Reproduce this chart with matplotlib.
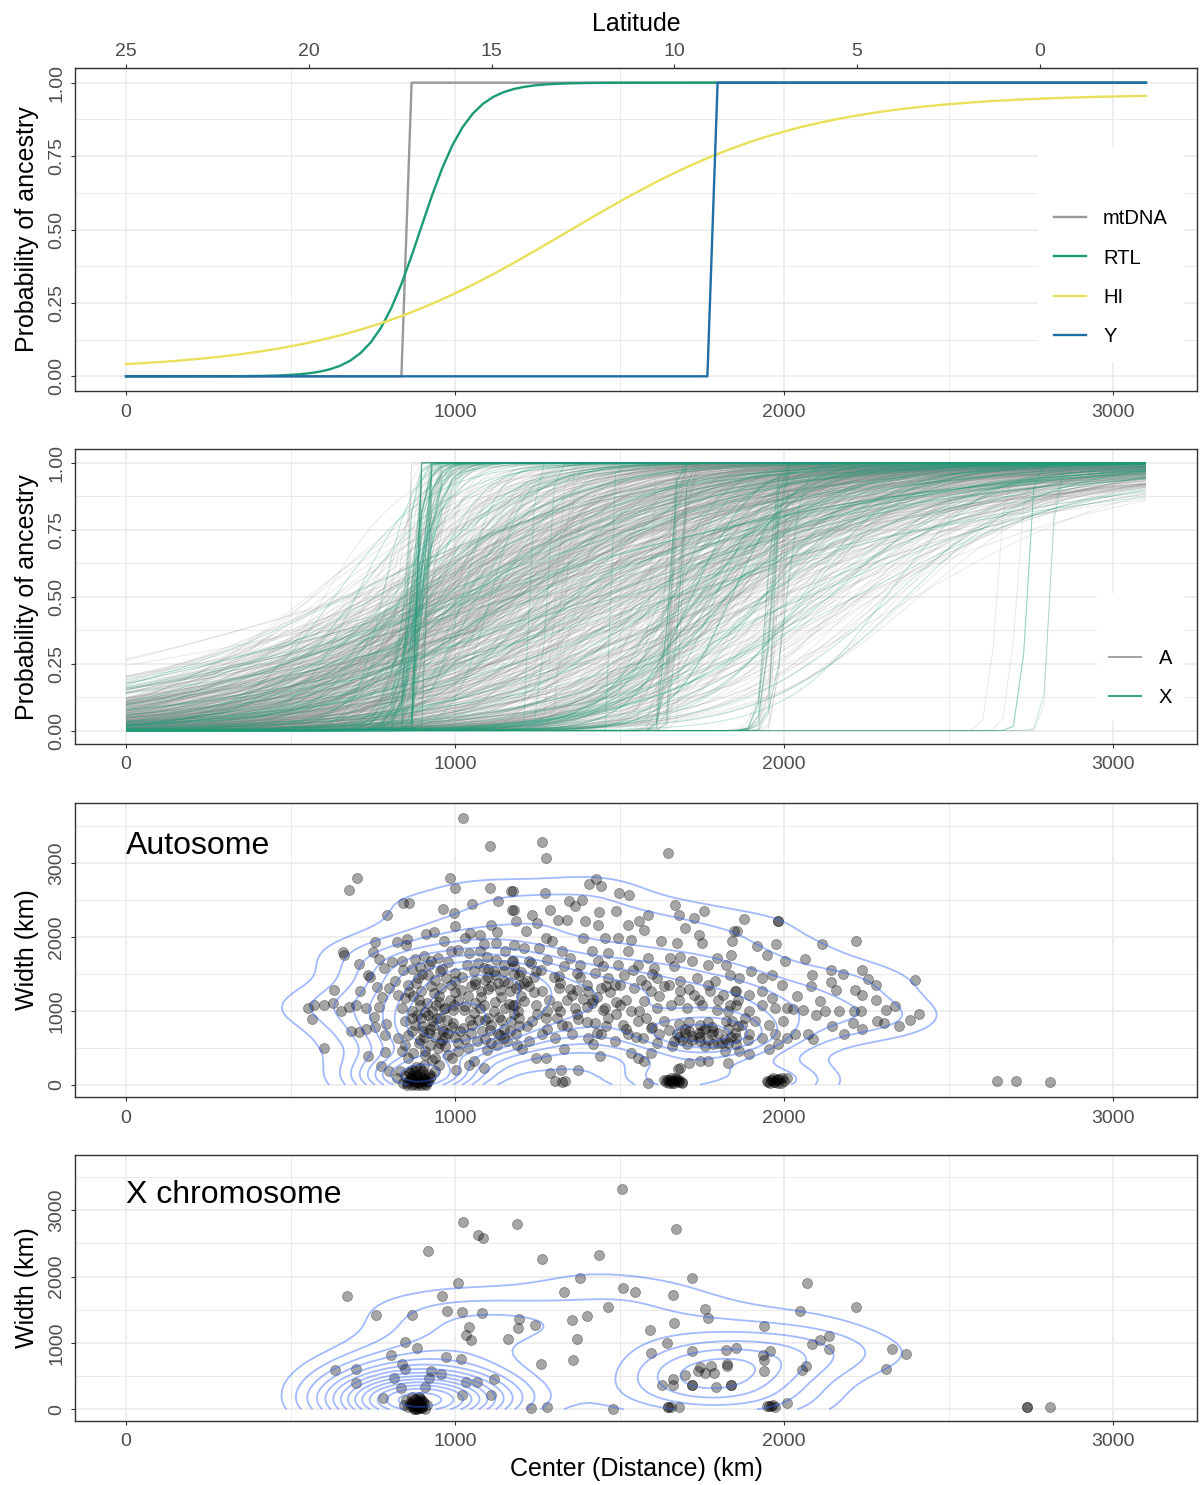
import numpy as np
import matplotlib
matplotlib.use("Agg")
import matplotlib.pyplot as plt
from matplotlib.collections import LineCollection
from matplotlib.lines import Line2D
from matplotlib.ticker import MaxNLocator, FixedLocator

plt.rcParams['font.family'] = ['Liberation Sans', 'DejaVu Sans']

# ---- panel 1: fitted clines (center / width in km, tails pmin / pmax) ----
cline_names = ["mtDNA", "RTL", "HI", "Y"]
cline_centers = [852, 895, 1340, 1782]
cline_widths = [5, 297, 1430, 5]
cline_pmin = [0.0, 0.0, 0.02, 0.0]
cline_pmax = [1.0, 1.0, 0.962, 1.0]

auto_center = [
    1025, 1105, 703, 679, 985, 1001, 1105, 1170, 841, 861,
    792, 963, 996, 1053, 1130, 1174, 1001, 1110, 1129, 913,
    935, 853, 824, 758, 850, 967, 1029, 1046, 1076, 1088,
    1123, 661, 663, 750, 768, 709, 737, 743, 785, 809,
    838, 878, 907, 843, 870, 893, 928, 948, 988, 1008,
    1043, 1075, 1098, 1125, 1153, 632, 553, 570, 566, 603,
    628, 653, 678, 710, 698, 728, 763, 778, 798, 768,
    753, 685, 708, 728, 756, 791, 788, 602, 736, 776,
    788, 798, 818, 858, 888, 918, 953, 973, 1000, 1035,
    1058, 1088, 1118, 1148, 1173, 828, 848, 873, 898, 928,
    958, 988, 1018, 1048, 1078, 1108, 1138, 1168, 838, 868,
    893, 918, 943, 968, 998, 1028, 1058, 1088, 1118, 1153,
    1183, 848, 878, 898, 933, 963, 993, 1023, 1053, 1083,
    1108, 1138, 1168, 828, 858, 893, 923, 948, 978, 1008,
    1038, 1068, 1098, 1128, 1158, 1188, 838, 858, 873, 908,
    938, 1058, 1088, 1003, 1043, 848, 903, 883, 953,
    833, 848, 858, 868, 878, 888, 898, 908, 918, 928,
    843, 883, 863, 893, 913, 853, 938, 823, 903, 873,
    900, 920, 940, 960, 980, 1000, 870, 890, 950, 1010,
    1060, 1100, 1140, 1180, 1200, 1150, 1100, 1000, 930, 960,
    1263, 1277, 1648, 1177, 1272, 1407, 1428, 1445, 1498, 1530,
    1345, 1385, 1180, 1235, 1290, 1365, 1437, 1490, 1585, 1668,
    1680, 1725, 1757, 1185, 1250, 1313, 1340, 1395, 1433, 1525,
    1560, 1575, 1700, 1215, 1275, 1295, 1390, 1457, 1495, 1535,
    1625, 1675, 1740, 1750, 1847, 1180, 1210, 1255, 1325, 1415,
    1465, 1525, 1585, 1652, 1685, 1720, 1770, 1797, 1825, 1175,
    1225, 1280, 1350, 1380, 1435, 1495, 1555, 1605, 1665, 1195,
    1245, 1315, 1370, 1425, 1465, 1515, 1565, 1615, 1685, 1735,
    1790, 1835, 1185, 1225, 1265, 1315, 1355, 1405, 1445, 1485,
    1545, 1595, 1635, 1685, 1725, 1775, 1815, 1850, 1175, 1210,
    1245, 1285, 1320, 1365, 1415, 1455, 1500, 1535, 1575, 1615,
    1655, 1705, 1750, 1795, 1835, 1195, 1235, 1275, 1325, 1375,
    1425, 1465, 1510, 1555, 1595, 1635, 1675, 1710, 1745, 1785,
    1825, 1185, 1225, 1265, 1305, 1355, 1405, 1445, 1485, 1525,
    1570, 1615, 1665, 1705, 1745, 1785, 1820, 1855, 1205, 1245,
    1275, 1330, 1420, 1440, 1535, 1555, 1575, 1595, 1710, 1745,
    1770, 1830, 1685, 1290, 1323, 1375, 1305, 1335, 1325, 1587,
    1645, 1660, 1635, 1665, 1680, 1655, 1675, 1690, 1650, 1670,
    1677,
    1878, 1983, 1983, 1858, 1843, 1976, 2116, 2219, 1918, 1948,
    2063, 1840, 1898, 1963, 2003, 2143, 2180, 2238, 2255, 2280,
    2398, 2086, 2081, 2143, 2158, 2216, 2238, 2280, 2311, 2338,
    2410, 2384, 2350, 2038, 2008, 2028, 2108, 2123, 2058, 2166,
    2213, 2233, 2209, 2238, 2283, 2303, 2146, 2183, 2073, 2088,
    2033, 2098, 1993, 1933, 1863, 1853, 1893, 1933, 1963, 1853,
    1893, 1933, 1973, 1843, 1873, 1913, 1953, 1998, 1853, 1893,
    1933, 1973, 2008, 1863, 1893, 1953, 1983, 1948, 1963, 1978,
    1993, 2008, 1958, 1983, 1973, 2646, 2706, 2808,
    1700, 1740, 1780, 1820, 1760, 1800, 1720, 1850, 1680, 1760,
    # dark blobs of narrow clines
    855, 865, 875, 885, 895, 905, 915, 925, 860, 870,
    880, 890, 900, 910, 920, 870, 880, 890, 900, 910,
    885, 895, 875, 905, 865,
    1640, 1650, 1660, 1670, 1680, 1690, 1655, 1675,
    1950, 1960, 1970, 1980, 1990, 2000, 1965, 1985,
    # densest parts of the cloud, where single points merge
    905, 925, 945, 965, 985, 915, 935, 955, 975, 995,
    910, 930, 950, 970, 990,
    1060, 1090, 1120, 1150, 1180, 1210, 1240, 1070, 1130, 1200,
    1230, 1100,
    1310, 1340, 1370, 1400, 1430, 1460, 1490, 1320, 1390, 1450,
    1660, 1690, 1720, 1750, 1780, 1810, 1840, 1700, 1770, 1830,
    1015, 1045, 1075, 1105, 1135, 1165, 1195, 1030, 1090, 1150,
    860, 880, 900, 920, 940, 960, 980, 1000, 1020, 1040,
    1060, 1080, 1100, 1120, 1140, 1160, 1180, 1195, 870, 890,
    910, 930, 950, 970, 990, 1010, 1030, 1050, 1070, 1090,
    1110, 1130, 1150, 1170, 1190,
    1220, 1240, 1260, 1280, 1300, 1330, 1350, 1380, 1400, 1420,
    1450, 1470, 1500, 1520, 1540, 1560, 1580, 1600, 1220, 1250,
    1280, 1310, 1340, 1370, 1400, 1430, 1460, 1490, 1520, 1550,
    1580, 1600,
    1620, 1650, 1680, 1710, 1740, 1770, 1800, 1830, 1860, 1880,
    1620, 1650, 1680, 1710, 1740, 1770, 1800, 1830, 1860, 1890,
]
auto_width = [
    3604, 3235, 2793, 2627, 2793, 2658, 2658, 2622, 2455, 2455,
    2297, 2378, 2316, 2450, 2478, 2360, 2153, 2162, 2063, 2045,
    2063, 1973, 1928, 1928, 1883, 1946, 1982, 2054, 2027, 1901,
    1914, 1793, 1748, 1793, 1694, 1631, 1478, 1455, 1577, 1658,
    1667, 1703, 1734, 1545, 1568, 1586, 1667, 1712, 1802, 1824,
    1779, 1802, 1721, 1689, 1802, 1279, 1036, 1081, 892, 1081,
    1103, 991, 1054, 1261, 1081, 1036, 1315, 1180, 1306, 1045,
    910, 721, 712, 757, 775, 820, 676, 496, 383, 248,
    441, 180, 1396, 1351, 1441, 1487, 1532, 1441, 1509, 1622,
    1532, 1577, 1532, 1622, 1667, 1216, 1171, 1194, 1261, 1329,
    1306, 1351, 1284, 1329, 1261, 1329, 1284, 1261, 1036, 991,
    1081, 946, 1081, 1036, 1081, 1013, 968, 1081, 991, 1036,
    1081, 856, 811, 901, 788, 721, 833, 766, 811, 721,
    811, 676, 721, 631, 676, 608, 541, 496, 406, 563,
    496, 586, 473, 541, 586, 541, 451, 360, 428, 406,
    360, 315, 225, 203, 270, 541, 721, 946, 901,
    180, 113, 45, 0, 180, 90, 0, 135, 45, 113,
    23, 0, 158, 225, 0, 0, 180, 90, 68, 68,
    800, 700, 650, 760, 700, 640, 900, 1150, 1200, 1150,
    1100, 900, 870, 950, 1200, 1400, 1450, 1400, 1000, 600,
    3289, 3064, 3140, 2623, 2596, 2713, 2776, 2681, 2596, 2560,
    2479, 2501, 2366, 2299, 2366, 2411, 2335, 2353, 2299, 2434,
    2290, 2254, 2344, 2218, 2182, 2232, 2232, 2218, 2155, 2164,
    2209, 2096, 2119, 2074, 1984, 1939, 1984, 1984, 1984, 1962,
    1939, 1916, 2029, 1916, 2074, 1894, 1849, 1849, 1804, 1804,
    1782, 1804, 1714, 1714, 1723, 1669, 1624, 1714, 1624, 1669,
    1669, 1691, 1714, 1624, 1669, 1624, 1624, 1579, 1602, 1489,
    1534, 1467, 1512, 1512, 1444, 1489, 1422, 1444, 1399, 1444,
    1399, 1489, 1309, 1331, 1264, 1309, 1219, 1264, 1309, 1354,
    1309, 1264, 1331, 1264, 1219, 1264, 1219, 1264, 1084, 1129,
    1084, 1151, 994, 1039, 1106, 1039, 1084, 994, 1129, 1039,
    1084, 1039, 1084, 1017, 1084, 904, 859, 904, 814, 882,
    837, 904, 814, 859, 769, 859, 679, 724, 814, 724,
    859, 679, 589, 679, 634, 679, 634, 679, 589, 679,
    634, 567, 589, 544, 589, 544, 454, 544, 477, 364,
    364, 477, 544, 385, 432, 364, 319, 432, 296, 319,
    319, 296, 229, 161, 197, 197, 49, 49, 40, 27,
    58, 49, 58, 27, 58, 94, 49, 40, 27, 85,
    206,
    2245, 2209, 2209, 2074, 1948, 1903, 1903, 1948, 1871, 1759,
    1700, 1759, 1534, 1489, 1669, 1556, 1498, 1548, 1435, 1354,
    1413, 1489, 1340, 1390, 1286, 1286, 1219, 1142, 1016, 1061,
    958, 881, 791, 1205, 1039, 1030, 1129, 994, 1012, 994,
    1003, 994, 836, 760, 859, 836, 800, 688, 679, 612,
    679, 949, 1354, 1444, 1444, 1264, 1219, 1264, 1174, 1084,
    994, 1084, 1039, 859, 814, 859, 814, 859, 634, 679,
    634, 679, 634, 454, 409, 477, 544, 49, 58, 72,
    85, 85, 27, 27, 40, 54, 54, 32,
    700, 650, 680, 620, 760, 560, 600, 700, 640, 520,
    # dark blobs of narrow clines
    20, 60, 100, 40, 140, 80, 30, 90, 170, 120,
    30, 60, 110, 50, 150, 200, 240, 20, 180, 10,
    130, 40, 10, 260, 90,
    30, 60, 20, 70, 40, 20, 50, 80,
    40, 70, 30, 60, 20, 50, 90, 75,
    # densest parts of the cloud, where single points merge
    640, 760, 900, 1020, 1150, 1100, 1240, 560, 880, 1010,
    980, 860, 1120, 640, 780,
    1360, 1420, 1480, 1540, 1600, 1380, 1460, 1640, 1380, 1520,
    1650, 1560,
    1060, 1140, 1280, 1050, 1190, 1330, 1120, 1370, 1160, 1010,
    520, 600, 660, 720, 780, 560, 640, 760, 600, 760,
    720, 880, 1040, 740, 920, 1090, 800, 1060, 880, 760,
    1250, 1380, 1500, 1620, 1420, 1560, 1660, 1250, 1450, 1200,
    1400, 1180, 1300, 1120, 1180, 1380, 1500, 1350, 720, 560,
    450, 330, 260, 520, 360, 450, 620, 700, 880, 620,
    560, 680, 630, 860, 1000,
    1400, 1250, 1550, 1000, 1450, 1600, 1300, 1450, 1350, 1150,
    1600, 1250, 1350, 1150, 1550, 1000, 1350, 1500, 800, 950,
    760, 900, 800, 950, 850, 700, 800, 950, 750, 650,
    900, 780,
    1200, 1350, 1150, 1300, 1150, 1350, 1150, 1000, 1150, 900,
    680, 740, 820, 850, 700, 850, 700, 560, 800, 600,
]

x_center = [
    1508, 1025, 1189, 1069, 1085, 1672, 918, 1263, 1437, 1380,
    1009, 1719, 673, 959, 1332, 1511, 1548, 1661, 2071, 761,
    870, 976, 1022, 1082, 1193, 1190, 1242, 1355, 1400, 1464,
    1759, 1769, 1667, 1592, 1938, 2048, 2218, 1041, 1032, 1050,
    1161, 1371, 847, 884, 1643, 2085, 2109, 2137, 2136, 2329,
    2372, 806, 974, 1018, 1261, 1359, 1597, 1719, 1823, 1855,
    1936, 1958, 1938, 2066, 2054, 2310, 634, 698, 839, 847,
    927, 958, 921, 814, 699, 1034, 1068, 1119, 836, 908,
    780, 1022, 1108, 1745, 1778, 1759, 1786, 1739, 1699, 1663,
    1629, 1661, 1719, 1793, 1840, 1827, 1826, 1938, 1230, 1278,
    1480, 1648, 1680, 1954, 1973, 2009,
    851, 870, 883, 896, 857, 877, 908, 864, 889, 844, 915, 898,
    2737, 2737, 2808,
    1719, 1840, 1648, 1655, 1960, 1965, 1948,
    # the solid black blob of narrow clines near 880 km
    880, 890, 875, 900, 885, 870, 895, 905,
    872, 878, 886, 892, 898, 904, 868, 882, 894, 876,
    888, 900, 866, 884, 896,
]
x_width = [
    3323, 2828, 2793, 2626, 2586, 2717, 2384, 2262, 2323, 1985,
    1904, 1985, 1707, 1702, 1773, 1828, 1768, 1727, 1899, 1424,
    1424, 1475, 1465, 1444, 1364, 1222, 1268, 1348, 1404, 1540,
    1505, 1369, 1303, 1192, 1257, 1475, 1535, 1242, 1116, 1050,
    1060, 1060, 1015, 919, 1000, 985, 1050, 1111, 914, 914,
    833, 818, 783, 762, 677, 747, 853, 884, 899, 924,
    823, 884, 747, 646, 596, 606, 596, 606, 682, 611,
    571, 535, 470, 465, 394, 414, 409, 454, 318, 343,
    177, 212, 217, 636, 656, 545, 545, 571, 510, 460,
    369, 369, 369, 343, 369, 687, 646, 581, 25, 40,
    10, 40, 40, 56, 30, 91,
    141, 192, 91, 30, 30, 0, 10, 91, 192, 66, 66, 141,
    39, 39, 39,
    369, 369, 40, 40, 45, 60, 50,
    # the solid black blob of narrow clines near 880 km
    50, 100, 150, 40, 20, 110, 170, 90,
    30, 70, 120, 20, 60, 130, 80, 160, 40, 10,
    90, 25, 50, 5, 110,
]
assert len(auto_center) == len(auto_width)
assert len(x_center) == len(x_width)

latitude_ticks = [25, 20, 15, 10, 5, 0]
KM_PER_DEGREE = 111.1

# transect is evaluated on the same coarse grid as the original fits
distance = np.linspace(0, 3100, 101)

TICK_GREY = '#4d4d4d'
GRID = '#ebebeb'
XLIM = (-155, 3255)


def cline(x, center, width, pmin=0.0, pmax=1.0):
    """Sigmoid cline: probability of ancestry along the transect."""
    z = np.clip(4.0 * (x - center) / max(width, 1e-6), -60, 60)
    return pmin + (pmax - pmin) / (1.0 + np.exp(-z))


def bandwidth_nrd(v):
    q1, q3 = np.quantile(v, [0.25, 0.75])
    return 4 * 1.06 * min(np.std(v, ddof=1), (q3 - q1) / 1.34) * len(v) ** (-0.2)


def kde2d(x, y, xr, yr, n=100):
    """Gaussian 2D kernel density on an n x n grid (as MASS::kde2d)."""
    x = np.asarray(x, float)
    y = np.asarray(y, float)
    hx, hy = bandwidth_nrd(x) / 4, bandwidth_nrd(y) / 4
    gx = np.linspace(xr[0], xr[1], n)
    gy = np.linspace(yr[0], yr[1], n)
    kx = np.exp(-0.5 * ((gx[:, None] - x[None, :]) / hx) ** 2) / np.sqrt(2 * np.pi)
    ky = np.exp(-0.5 * ((gy[:, None] - y[None, :]) / hy) ** 2) / np.sqrt(2 * np.pi)
    z = kx @ ky.T / (len(x) * hx * hy)
    return gx, gy, z.T


def style_axis(ax, ylim, major, minor, ylabels):
    ax.set_xlim(*XLIM)
    ax.set_ylim(*ylim)
    ax.xaxis.set_major_locator(FixedLocator([0, 1000, 2000, 3000]))
    ax.xaxis.set_minor_locator(FixedLocator([500, 1500, 2500]))
    ax.yaxis.set_major_locator(FixedLocator(major))
    ax.yaxis.set_minor_locator(FixedLocator(minor))
    ax.set_xticklabels(['0', '1000', '2000', '3000'])
    ax.set_yticklabels(ylabels)
    ax.grid(which='major', color=GRID, lw=1.2)
    ax.grid(which='minor', color=GRID, lw=0.7)
    ax.set_axisbelow(True)
    for sp in ax.spines.values():
        sp.set_color('#333333')
        sp.set_linewidth(1.0)
    ax.tick_params(which='major', length=3, width=0.8, color='#333333',
                   labelsize=14, labelcolor=TICK_GREY)
    ax.tick_params(axis='x', pad=6)
    ax.tick_params(axis='y', pad=4, labelrotation=90)
    ax.tick_params(which='minor', length=0)
    for lab in ax.get_yticklabels():
        lab.set_va('center')


def add_density(ax, cx, wy, nbins, skip=0):
    """Density contours; `skip` drops the lowest break(s)."""
    gx, gy, z = kde2d(cx, wy, (0, 3100), (min(wy), max(wy)))
    levels = MaxNLocator(nbins=nbins, steps=[1, 2, 2.5, 5, 10]).tick_values(z.min(), z.max())
    levels = levels[(levels > z.min()) & (levels < z.max())][skip:]
    ax.contour(gx, gy, z, levels=levels, colors='#3366ff', alpha=0.45,
               linewidths=1.3, zorder=3)


fig = plt.figure(figsize=(12, 14.85), dpi=100)
ax1 = fig.add_axes([0.0625, 0.7367, 0.935, 0.2175])
ax2 = fig.add_axes([0.0625, 0.4990, 0.935, 0.1984])
ax3 = fig.add_axes([0.0625, 0.2611, 0.935, 0.1984])
ax4 = fig.add_axes([0.0625, 0.0431, 0.935, 0.1791])

prob_ticks = [0, 0.25, 0.5, 0.75, 1.0]
prob_minor = [0.125, 0.375, 0.625, 0.875]
prob_labels = ['0.00', '0.25', '0.50', '0.75', '1.00']

# ---- panel 1 ----
line_colors = ['#999999', '#1a9a76', '#e8e05a', '#1f6ea5']
for name, c, w, lo, hi, col in zip(cline_names, cline_centers, cline_widths,
                                    cline_pmin, cline_pmax, line_colors):
    ax1.plot(distance, cline(distance, c, w, lo, hi), color=col, lw=1.7, label=name)
style_axis(ax1, (-0.05, 1.05), prob_ticks, prob_minor, prob_labels)
ax1.set_ylabel('Probability of ancestry', fontsize=18, va='center')
ax1.yaxis.set_label_coords(-0.0428, 0.5)
leg1 = ax1.legend(loc='upper left', bbox_to_anchor=(0.858, 0.755), borderaxespad=0,
                  frameon=True, framealpha=1, facecolor='white', edgecolor='none',
                  fancybox=False, fontsize=14.5, handlelength=1.6, handletextpad=0.85,
                  labelspacing=1.0, borderpad=0.8, title=' ', title_fontsize=20)
leg1.get_frame().set_linewidth(0)

sec = ax1.secondary_xaxis('top', functions=(lambda d: 25 - np.asarray(d) / KM_PER_DEGREE,
                                            lambda lat: (25 - np.asarray(lat)) * KM_PER_DEGREE))
sec.xaxis.set_major_locator(FixedLocator(latitude_ticks))
sec.set_xticklabels([str(t) for t in latitude_ticks])
sec.tick_params(length=3, width=0.8, color='#333333', labelsize=14,
                labelcolor=TICK_GREY, pad=2.5)
sec.spines['top'].set_color('#333333')
sec.set_xlabel('Latitude', fontsize=18)
sec.xaxis.set_label_coords(0.5, 1.135, transform=ax1.transAxes)
sec.xaxis.label.set_va('center')

# ---- panel 2 ----
auto_lines = [np.column_stack([distance, cline(distance, c, w)])
              for c, w in zip(auto_center, auto_width)]
x_lines = [np.column_stack([distance, cline(distance, c, w)])
           for c, w in zip(x_center, x_width)]
ax2.add_collection(LineCollection(auto_lines, colors='#8c8c8c', alpha=0.22,
                                  linewidths=0.6, zorder=2))
ax2.add_collection(LineCollection(x_lines, colors='#1b9e77', alpha=0.28,
                                  linewidths=0.7, zorder=3))
style_axis(ax2, (-0.05, 1.05), prob_ticks, prob_minor, prob_labels)
ax2.set_ylabel('Probability of ancestry', fontsize=18, va='center')
ax2.yaxis.set_label_coords(-0.0428, 0.5)
handles = [Line2D([], [], color='#999999', lw=1.3), Line2D([], [], color='#1b9e77', lw=1.3)]
leg2 = ax2.legend(handles, ['A', 'X'], loc='upper left', bbox_to_anchor=(0.911, 0.512),
                  borderaxespad=0, frameon=True, framealpha=1, facecolor='white',
                  edgecolor='none', fancybox=False, fontsize=14.5, handlelength=1.6,
                  handletextpad=0.85, labelspacing=1.0, borderpad=0.6,
                  title=' ', title_fontsize=18)
leg2.get_frame().set_linewidth(0)

# ---- panels 3 and 4 ----
width_ticks = [0, 1000, 2000, 3000]
width_minor = [500, 1500, 2500, 3500]
width_labels = ['0', '1000', '2000', '3000']
for ax, cx, wy, ylim, title, nb, skip in [
        (ax3, auto_center, auto_width, (-170, 3815), 'Autosome', 12, 0),
        (ax4, x_center, x_width, (-176, 3830), 'X chromosome', 16, 1)]:
    ax.scatter(cx, wy, s=52, c='black', alpha=0.35, edgecolors='black',
               linewidths=0.6, zorder=2)
    add_density(ax, cx, wy, nb, skip)
    style_axis(ax, ylim, width_ticks, width_minor, width_labels)
    ax.set_ylabel('Width (km)', fontsize=18, va='center')
    ax.yaxis.set_label_coords(-0.0428, 0.5)
    ax.text(0, 3230, title, fontsize=23, ha='left', va='center', zorder=4)

ax4.set_xlabel('Center (Distance) (km)', fontsize=18, va='center')
ax4.xaxis.set_label_coords(0.5, -0.180)

fig.savefig('out.png', dpi=100)
